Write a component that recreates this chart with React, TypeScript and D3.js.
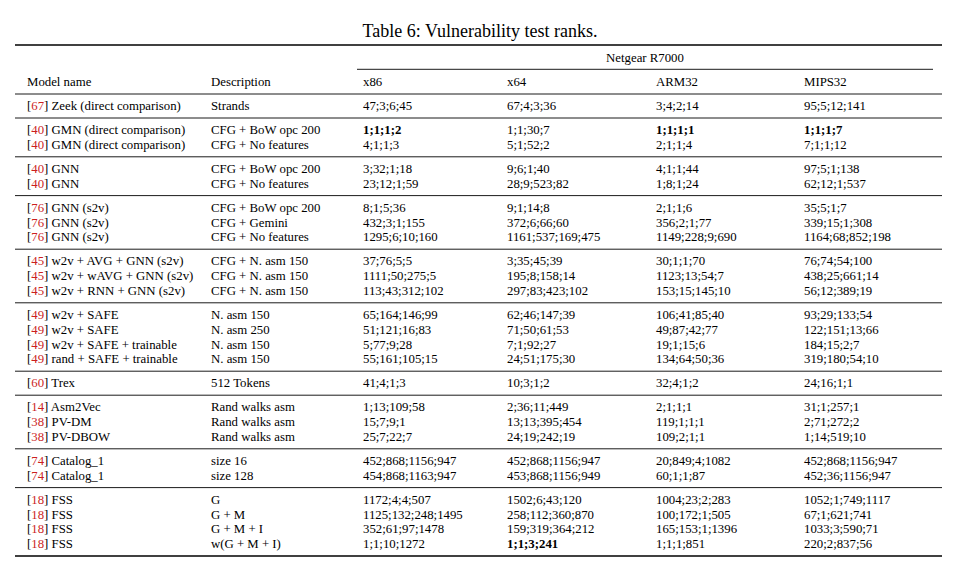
import React from "react";
import * as d3 from "d3";

const title = "Table 6: Vulnerability test ranks.";
const superHeader = "Netgear R7000";
const headers = ["Model name", "Description", "x86", "x64", "ARM32", "MIPS32"];

const groupSizes = [1, 2, 2, 3, 3, 4, 1, 3, 2, 4];

const refs = ["67", "40", "40", "40", "40", "76", "76", "76", "45", "45", "45", "49", "49", "49", "49", "60", "14", "38", "38", "74", "74", "18", "18", "18", "18"];

const models = [
  "Zeek (direct comparison)",
  "GMN (direct comparison)",
  "GMN (direct comparison)",
  "GNN",
  "GNN",
  "GNN (s2v)",
  "GNN (s2v)",
  "GNN (s2v)",
  "w2v + AVG + GNN (s2v)",
  "w2v + wAVG + GNN (s2v)",
  "w2v + RNN + GNN (s2v)",
  "w2v + SAFE",
  "w2v + SAFE",
  "w2v + SAFE + trainable",
  "rand + SAFE + trainable",
  "Trex",
  "Asm2Vec",
  "PV-DM",
  "PV-DBOW",
  "Catalog_1",
  "Catalog_1",
  "FSS",
  "FSS",
  "FSS",
  "FSS",
];

const descriptions = [
  "Strands",
  "CFG + BoW opc 200",
  "CFG + No features",
  "CFG + BoW opc 200",
  "CFG + No features",
  "CFG + BoW opc 200",
  "CFG + Gemini",
  "CFG + No features",
  "CFG + N. asm 150",
  "CFG + N. asm 150",
  "CFG + N. asm 150",
  "N. asm 150",
  "N. asm 250",
  "N. asm 150",
  "N. asm 150",
  "512 Tokens",
  "Rand walks asm",
  "Rand walks asm",
  "Rand walks asm",
  "size 16",
  "size 128",
  "G",
  "G + M",
  "G + M + I",
  "w(G + M + I)",
];

const x86 = [
  "47;3;6;45", "1;1;1;2", "4;1;1;3", "3;32;1;18", "23;12;1;59",
  "8;1;5;36", "432;3;1;155", "1295;6;10;160",
  "37;76;5;5", "1111;50;275;5", "113;43;312;102",
  "65;164;146;99", "51;121;16;83", "5;77;9;28", "55;161;105;15",
  "41;4;1;3",
  "1;13;109;58", "15;7;9;1", "25;7;22;7",
  "452;868;1156;947", "454;868;1163;947",
  "1172;4;4;507", "1125;132;248;1495", "352;61;97;1478", "1;1;10;1272",
];

const x64 = [
  "67;4;3;36", "1;1;30;7", "5;1;52;2", "9;6;1;40", "28;9;523;82",
  "9;1;14;8", "372;6;66;60", "1161;537;169;475",
  "3;35;45;39", "195;8;158;14", "297;83;423;102",
  "62;46;147;39", "71;50;61;53", "7;1;92;27", "24;51;175;30",
  "10;3;1;2",
  "2;36;11;449", "13;13;395;454", "24;19;242;19",
  "452;868;1156;947", "453;868;1156;949",
  "1502;6;43;120", "258;112;360;870", "159;319;364;212", "1;1;3;241",
];

const arm32 = [
  "3;4;2;14", "1;1;1;1", "2;1;1;4", "4;1;1;44", "1;8;1;24",
  "2;1;1;6", "356;2;1;77", "1149;228;9;690",
  "30;1;1;70", "1123;13;54;7", "153;15;145;10",
  "106;41;85;40", "49;87;42;77", "19;1;15;6", "134;64;50;36",
  "32;4;1;2",
  "2;1;1;1", "119;1;1;1", "109;2;1;1",
  "20;849;4;1082", "60;1;1;87",
  "1004;23;2;283", "100;172;1;505", "165;153;1;1396", "1;1;1;851",
];

const mips32 = [
  "95;5;12;141", "1;1;1;7", "7;1;1;12", "97;5;1;138", "62;12;1;537",
  "35;5;1;7", "339;15;1;308", "1164;68;852;198",
  "76;74;54;100", "438;25;661;14", "56;12;389;19",
  "93;29;133;54", "122;151;13;66", "184;15;2;7", "319;180;54;10",
  "24;16;1;1",
  "31;1;257;1", "2;71;272;2", "1;14;519;10",
  "452;868;1156;947", "452;36;1156;947",
  "1052;1;749;1117", "67;1;621;741", "1033;3;590;71", "220;2;837;56",
];

// bold cells: [rowIndex, columnKey]
const boldCells: [number, string][] = [
  [1, "x86"],
  [1, "arm32"],
  [1, "mips32"],
  [24, "x64"],
];

const W = 960;
const H = 577;
const FONT = "'Liberation Serif', 'Times New Roman', Times, serif";
const FS = 12.8;

export default function App() {
  const colKeys = ["model", "desc", "x86", "x64", "arm32", "mips32"];
  const xCol = d3.scaleOrdinal<string, number>().domain(colKeys).range([27, 211, 363, 507, 656, 804]);

  // vertical layout: units = rows plus group paddings
  const pad = 12 / 14.8; // padding in row units
  const rowUnits: number[] = [];
  const ruleUnits: number[] = [0];
  let u = 0;
  let idx = 0;
  groupSizes.forEach((n) => {
    u += pad;
    for (let i = 0; i < n; i++) {
      rowUnits[idx++] = u + i;
    }
    u += (n - 1) + pad;
    ruleUnits.push(u);
  });
  const y = d3.scaleLinear().domain([0, u]).range([94, 556]);

  const cols: Record<string, string[]> = { x86, x64, arm32, mips32 };
  const isBold = (r: number, k: string) => boldCells.some(([br, bk]) => br === r && bk === k);

  const left = 15;
  const right = 942;

  return (
    <svg width={W} height={H} style={{ position: "absolute", left: 0, top: 0, background: "#fff" }} fontFamily={FONT}>
      <rect x={0} y={0} width={W} height={H} fill="#fff" />
      <text x={480} y={37} fontSize={18} textAnchor="middle" fill="#000">{title}</text>
      <line x1={left} x2={right} y1={45} y2={45} stroke="#000" strokeWidth={1.3} />
      <text x={645} y={58} dy="0.33em" fontSize={FS} textAnchor="middle" fill="#000">{superHeader}</text>
      <line x1={357} x2={933} y1={69.3} y2={69.3} stroke="#000" strokeWidth={0.9} />
      {headers.map((h, i) => (
        <text key={h} x={xCol(colKeys[i])} y={82} dy="0.33em" fontSize={FS} fill="#000">{h}</text>
      ))}
      {ruleUnits.map((ru, i) => (
        <line
          key={"r" + i}
          x1={left}
          x2={right}
          y1={y(ru)}
          y2={y(ru)}
          stroke="#000"
          strokeWidth={i === ruleUnits.length - 1 ? 1.3 : 0.9}
        />
      ))}
      {models.map((m, r) => {
        const yy = y(rowUnits[r]);
        return (
          <g key={"row" + r}>
            <text x={xCol("model")} y={yy} dy="0.33em" fontSize={FS} fill="#000">
              [<tspan fill="#cc1f1f">{refs[r]}</tspan>] {m}
            </text>
            <text x={xCol("desc")} y={yy} dy="0.33em" fontSize={FS} fill="#000">{descriptions[r]}</text>
            {["x86", "x64", "arm32", "mips32"].map((k) => (
              <text
                key={k}
                x={xCol(k)}
                y={yy}
                dy="0.33em"
                fontSize={FS}
                fill="#000"
                fontWeight={isBold(r, k) ? "bold" : "normal"}
              >
                {cols[k][r]}
              </text>
            ))}
          </g>
        );
      })}
    </svg>
  );
}
